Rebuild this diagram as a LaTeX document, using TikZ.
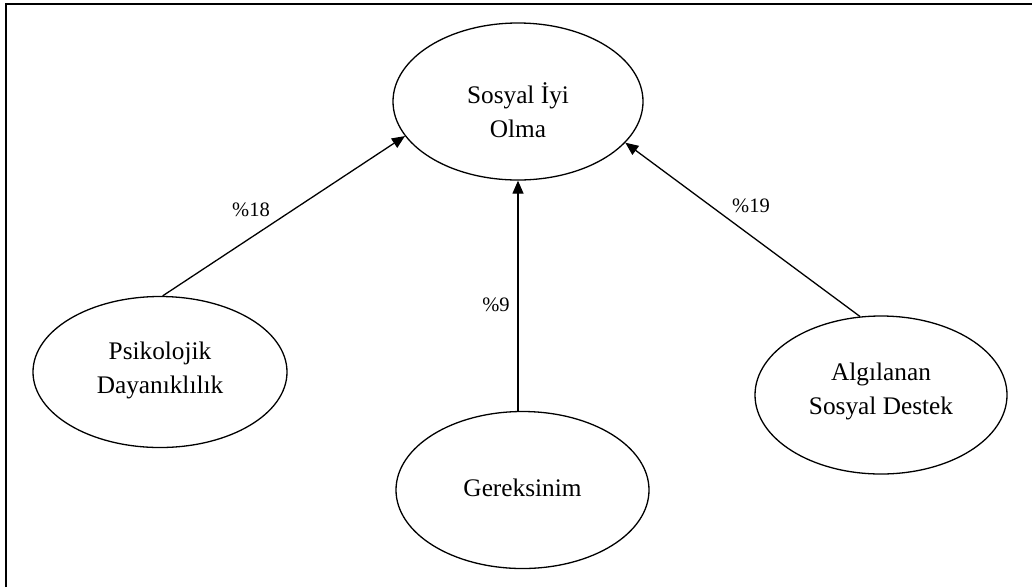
\documentclass[tikz,border=0pt]{standalone}
\usepackage{fontspec}
\setmainfont{Liberation Serif}
\usetikzlibrary{shapes.geometric,arrows.meta}
\begin{document}
\begin{tikzpicture}[x=1pt,y=-1pt,
  construct/.style={draw, line width=1.3pt, ellipse, inner sep=0pt, align=center,
    font=\fontsize{25.3}{33.5}\selectfont},
  effect/.style={draw, line width=1.3pt, -{Triangle[length=13pt,width=11pt]}},
  pct/.style={font=\fontsize{20.5}{24}\selectfont, anchor=base, inner sep=0pt},
  frameline/.style={line width=2pt}]
\useasboundingbox (0,0) rectangle (1032,587);

% open frame: top and left edges
\coordinate (fbl) at (6,587);
\coordinate (ftl) at (6,4.3);
\coordinate (ftr) at (1032,4.3);
\draw[frameline] (fbl) -- (ftl) -- (ftr);

% constructs
\node[construct, minimum width=250pt, minimum height=157pt, text height=75pt, text depth=4pt]
  (sio) at (518,101.5) {Sosyal İyi\\Olma};
\node[construct, minimum width=254pt, minimum height=151pt, text height=48pt, text depth=6pt]
  (psi) at (160,372) {Psikolojik\\Dayanıklılık};
\node[construct, minimum width=253pt, minimum height=157pt, text height=17pt, text depth=5pt]
  (ger) at (522.5,490) {Gereksinim};
\node[construct, minimum width=252pt, minimum height=158pt, text height=44pt, text depth=6pt]
  (alg) at (881,395) {Algılanan\\Sosyal Destek};

% paths
\draw[effect] (psi.88) -- (sio.197);
\draw[effect] (ger.north -| sio.south) -- (sio.south);
\draw[effect] (alg.105) -- (sio.339);

% explained variance
\node[pct] (p18) at (251,216.5) {\%18};
\node[pct] (p9) at (496,311.5) {\%9};
\node[pct] (p19) at (751,212.5) {\%19};
\end{tikzpicture}
\end{document}
